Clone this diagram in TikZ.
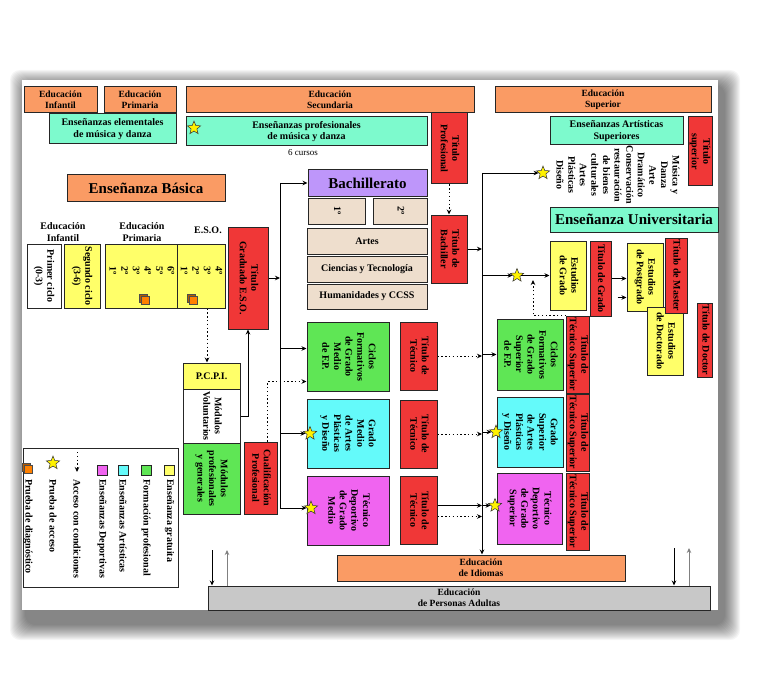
\documentclass[tikz,border=0pt]{standalone}
\usepackage{fontspec}
\setmainfont{Liberation Serif}
\usetikzlibrary{arrows.meta,shapes.geometric,shadows}

\definecolor{naranja}{RGB}{250,155,100}
\definecolor{menta}{RGB}{125,250,205}
\definecolor{rojo}{RGB}{240,55,55}
\definecolor{amarillo}{RGB}{255,255,105}
\definecolor{verde}{RGB}{95,230,85}
\definecolor{cian}{RGB}{100,250,250}
\definecolor{magenta}{RGB}{240,100,240}
\definecolor{lila}{RGB}{190,150,250}
\definecolor{beige}{RGB}{238,222,205}
\definecolor{gris}{RGB}{200,200,200}

\newcommand{\vtext}[1]{\rotatebox{-90}{\begin{tabular}{@{}c@{}}#1\end{tabular}}}

\begin{document}
\begin{tikzpicture}[x=1pt, y=-1pt,
    every node/.style={font=\fontsize{10}{11.6}\selectfont\bfseries},
    caja/.style={rectangle, draw=black!85, line width=1pt, inner sep=1pt, align=center},
    cab/.style={caja, fill=naranja, minimum height=26pt, font=\fontsize{9.5}{11}\selectfont\bfseries},
    titulo/.style={caja, fill=rojo, inner sep=0pt},
    grande/.style={font=\fontsize{15}{17}\selectfont\bfseries},
    estrella/.style={star, star points=5, star point ratio=2.3, fill=yellow, draw=black!80, line width=0.5pt, minimum size=14pt, inner sep=0pt},
    cubo/.style={draw=black!70, fill=orange, line width=0.5pt, minimum size=8pt, inner sep=0pt, copy shadow={shadow xshift=-1.8pt, shadow yshift=1.8pt, fill=orange!70!black, draw=black!70}},
    cuadro/.style={draw=black!85, line width=1pt, minimum size=10pt, inner sep=0pt},
    leyenda/.style={rotate=-90, anchor=west, inner sep=0pt},
    linea/.style={line width=0.9pt},
    flecha/.style={-{Stealth[length=5pt,width=4.5pt]}, line width=0.9pt},
    punteada/.style={flecha, dash pattern=on 1.4pt off 2.4pt}
]
\useasboundingbox (0,0) rectangle (773,695);

% hoja con sombra
\foreach \r in {1,...,16}
  \fill[black, opacity=0.04, rounded corners=10pt] (26-\r,86-\r) rectangle (724+\r,624+\r);
\fill[white] (22,80) rectangle (718,610);

% cabeceras
\node[cab, minimum width=73pt] (hinf) at (60.5,100) {Educación\\Infantil};
\node[cab, minimum width=72pt] (hprim) at (140,100) {Educación\\Primaria};
\node[cab, minimum width=288pt] (hsec) at (330,100) {Educación\\Secundaria};
\node[cab, minimum width=216pt] (hsup) at (603,100) {Educación\\Superior};

% musica y danza
\node[caja, fill=menta, minimum width=127pt, minimum height=30pt] (elem) at (112.5,129) {Enseñanzas elementales\\de música y danza};
\node[caja, fill=menta, minimum width=241pt, minimum height=29pt] (prof) at (306.5,131.5) {Enseñanzas profesionales\\de música y danza};
\node[font=\fontsize{9}{10}\selectfont] (cursos) at (303,153) {6 cursos};
\node[titulo, minimum width=36pt, minimum height=71pt] (tprof) at (449,148.5) {\vtext{Título\\Profesional}};
\node[caja, fill=menta, minimum width=133pt, minimum height=28pt] (artsup) at (616.5,131) {Enseñanzas Artísticas\\Superiores};
\node[titulo, minimum width=24pt, minimum height=69pt] (tsup) at (700,151.5) {\vtext{Título\\superior}};
\node (disc) at (617,175) {\vtext{Música y\\Danza\\Arte\\Dramático\\Conservación\\restauración\\de bienes\\culturales\\Artes\\Plásticas\\Diseño}};

% ensenanza basica
\node[caja, fill=naranja, minimum width=158pt, minimum height=26pt, grande] (basica) at (146,188) {Enseñanza Básica};
\node[align=center] (linf) at (63,232) {Educación\\Infantil};
\node[align=center] (lprim) at (142,232) {Educación\\Primaria};
\node (leso) at (208,230) {E.S.O.};
\node[caja, fill=white, minimum width=34pt, minimum height=64pt] (ciclo1) at (44,276) {\vtext{Primer ciclo\\(0-3)}};
\node[caja, fill=amarillo, minimum width=36pt, minimum height=64pt] (ciclo2) at (82,276) {\vtext{Segundo ciclo\\(3-6)}};
\node[caja, fill=amarillo, minimum width=72pt, minimum height=64pt] (prim) at (141,276) {};
\node (primtxt) at (141,271) {\vtext{6º\\5º\\4º\\3º\\2º\\1º}};
\node[caja, fill=amarillo, minimum width=48pt, minimum height=64pt] (eso) at (201,276) {};
\node (esotxt) at (200.5,271) {\vtext{4º\\3º\\2º\\1º}};
\node[cubo] (cubo1) at (145,300) {};
\node[cubo] (cubo2) at (193,300) {};
\node[titulo, minimum width=40pt, minimum height=102pt] (tgeso) at (248,278) {\vtext{Título\\Graduado E.S.O.}};

% bachillerato
\node[caja, fill=lila, minimum width=119pt, minimum height=26pt, grande] (bach) at (367.5,183) {Bachillerato};
\node[caja, fill=beige, minimum width=57pt, minimum height=26pt] (curso1) at (336.5,211) {\vtext{1º}};
\node[caja, fill=beige, minimum width=54pt, minimum height=26pt] (curso2) at (400,211) {\vtext{2º}};
\node[caja, fill=beige, minimum width=120pt, minimum height=26pt] (artes) at (367,241) {Artes};
\node[caja, fill=beige, minimum width=120pt, minimum height=26pt] (ciencias) at (367,269) {Ciencias y Tecnología};
\node[caja, fill=beige, minimum width=120pt, minimum height=25pt] (human) at (367,296.5) {Humanidades y CCSS};
\node[titulo, minimum width=36pt, minimum height=68pt] (tbach) at (449,249) {\vtext{Título de\\Bachiller}};

% universidad
\node[caja, fill=menta, minimum width=168pt, minimum height=25pt, grande] (euniv) at (634,219.5) {Enseñanza Universitaria};
\node[caja, fill=amarillo, minimum width=36pt, minimum height=69pt] (egrado) at (568,275.5) {\vtext{Estudios\\de Grado}};
\node[titulo, minimum width=21pt, minimum height=75pt] (tgrado) at (600.5,278.5) {\vtext{Título de Grado}};
\node[caja, fill=amarillo, minimum width=36pt, minimum height=68pt] (epost) at (645,277) {\vtext{Estudios\\de Postgrado}};
\node[caja, fill=amarillo, minimum width=36pt, minimum height=68pt] (edoc) at (665,341) {\vtext{Estudios\\de Doctorado}};
\node[titulo, minimum width=22pt, minimum height=75pt] (tmaster) at (676,275.5) {\vtext{Título de Master}};
\node[titulo, minimum width=15pt, minimum height=74pt] (tdoc) at (705,340) {\vtext{Título de Doctor}};

% pcpi
\node[caja, fill=amarillo, minimum width=57pt, minimum height=26pt] (pcpi) at (211.5,376) {P.C.P.I.};
\node[caja, fill=white, minimum width=57pt, minimum height=54pt] (modvol) at (211.5,416) {\vtext{Módulos\\Voluntarios}};
\node[caja, fill=verde, minimum width=57pt, minimum height=71pt] (modprof) at (211.5,478.5) {\vtext{Módulos\\profesionales\\y generales}};
\node[titulo, minimum width=33pt, minimum height=72pt] (cualif) at (260.5,478) {\vtext{Cualificación\\Profesional}};

% grado medio
\node[caja, fill=verde, minimum width=82pt, minimum height=69pt] (cfgm) at (348,356.5) {\vtext{Ciclos\\Formativos\\de Grado\\Medio\\de F.P.}};
\node[caja, fill=cian, minimum width=82pt, minimum height=69pt] (gmap) at (348,433.5) {\vtext{Grado\\Medio\\de Artes\\Plásticas\\y Diseño}};
\node[caja, fill=magenta, minimum width=82pt, minimum height=69pt] (tdgm) at (348,510.5) {\vtext{Técnico\\Deportivo\\de Grado\\Medio}};
\node[titulo, minimum width=37pt, minimum height=68pt] (ttec1) at (418.5,356) {\vtext{Título de\\Técnico}};
\node[titulo, minimum width=37pt, minimum height=68pt] (ttec2) at (418.5,434) {\vtext{Título de\\Técnico}};
\node[titulo, minimum width=37pt, minimum height=68pt] (ttec3) at (418.5,510.5) {\vtext{Título de\\Técnico}};

% grado superior
\node[caja, fill=verde, minimum width=66pt, minimum height=71pt] (cfgs) at (530,354.5) {\vtext{Ciclos\\Formativos\\de Grado\\Superior\\de F.P.}};
\node[caja, fill=cian, minimum width=66pt, minimum height=70pt] (gsap) at (530,432) {\vtext{Grado\\Superior\\de Artes\\Plásticas\\y Diseño}};
\node[caja, fill=magenta, minimum width=65pt, minimum height=71pt] (tdgs) at (529.5,508.5) {\vtext{Técnico\\Deportivo\\de Grado\\Superior}};
\node[titulo, minimum width=22pt, minimum height=77pt] (tts1) at (578,354.5) {\vtext{Título de\\Técnico Superior}};
\node[titulo, minimum width=22pt, minimum height=77pt] (tts2) at (578,432.5) {\vtext{Título de\\Técnico Superior}};
\node[titulo, minimum width=22pt, minimum height=77pt] (tts3) at (578,511.5) {\vtext{Título de\\Técnico Superior}};

% idiomas y adultos
\node[caja, fill=naranja, minimum width=288pt, minimum height=26pt, font=\fontsize{9.5}{11}\selectfont\bfseries] (idiomas) at (481,568) {Educación\\de Idiomas};
\node[caja, fill=gris, inner sep=0.5pt, minimum width=502pt, minimum height=24pt, font=\fontsize{9.5}{11}\selectfont\bfseries] (adultas) at (459,598) {Educación\\de Personas Adultas};

% pruebas de acceso
\node[estrella] (e1) at (194,128) {};
\node[estrella] (e2) at (543,173) {};
\node[estrella] (e3) at (310,433.5) {};
\node[estrella] (e4) at (311,508) {};
\node[estrella] (e5) at (517,275.5) {};
\node[estrella] (e6) at (496,432) {};
\node[estrella] (e7) at (495,505.5) {};

% tronco izquierdo
\coordinate (tiz1) at (280,183);
\coordinate (tiz2) at (280,508);
\draw[linea] (tiz1) -- (tiz2);
\draw[flecha] (tgeso.east) -- (tgeso.east -| tiz1);
\draw[flecha] (tiz1) -- (bach.west);
\coordinate (rcfgm) at ([yshift=8pt]cfgm.west);
\draw[flecha] (rcfgm -| tiz1) -- (rcfgm);
\draw[flecha] (e3 -| tiz1) -- (e3);
\draw[flecha] (tiz2) -- (e4);
\draw[flecha] (modvol.east) -| (tgeso.south);
\draw[punteada] ([xshift=6pt]eso.south) -- ([xshift=6pt]eso.south |- pcpi.north);
\draw[punteada] ([xshift=7pt]cualif.north) |- ([yshift=-25pt]cfgm.west);
\draw[punteada] (tprof) -- (tbach);

% tronco derecho
\coordinate (tde1) at (482,173);
\draw[flecha] (tde1) -- (tde1 |- idiomas.north);
\draw[flecha] (tbach.east) -- (tbach.east -| tde1);
\draw[flecha] (tde1) -- (e2);
\draw[flecha] (tde1 |- e5) -- (e5);
\draw[flecha] (e5) -- (egrado.west);
\draw[flecha] (tde1 |- cfgs.west) -- (cfgs.west);
\draw[punteada] (ttec1.east) -- (ttec1.east -| tde1);
\draw[flecha] (tde1 |- e6) -- (e6);
\draw[punteada] (ttec2.east) -- (ttec2.east -| tde1);
\coordinate (rtd) at ([yshift=5pt]ttec3.east);
\draw[flecha] (rtd) -- (rtd -| tde1);
\draw[flecha] (tde1 |- e7) -- (e7);
\draw[punteada] ([yshift=-6pt]ttec3.east) -- ([yshift=-6pt]ttec3.east -| tde1);
\coordinate (accg) at (533,280);
\draw[punteada] (tts1.north west) -| (accg);
\draw[flecha] (tgrado.east) -- (tgrado.east -| epost.west);
\coordinate (rpg) at ([yshift=-19pt]tgrado.east);
\draw[flecha] ([xshift=6pt]rpg) -- (rpg -| epost.west);

% adultos
\coordinate (ad1) at (212,550);
\coordinate (ad2) at (227,550);
\coordinate (ad3) at (674,548);
\coordinate (ad4) at (689,548);
\draw[flecha] (ad1) -- (ad1 |- adultas.north);
\draw[flecha, gray] (ad2 |- adultas.north) -- (ad2);
\draw[flecha] (ad3) -- (ad3 |- adultas.north);
\draw[flecha, gray] (ad4 |- adultas.north) -- (ad4);

% leyenda
\node[caja, minimum width=155pt, minimum height=139pt] (leyenda) at (100.5,517.5) {};
\node[cuadro, fill=amarillo] (lg1) at (169.5,470) {};
\node[cuadro, fill=verde] (lg2) at (146,470) {};
\node[cuadro, fill=cian] (lg3) at (123,470) {};
\node[cuadro, fill=magenta] (lg4) at (102,470) {};
\coordinate (lg5) at (77,452);
\coordinate (lg5b) at (77,472);
\draw[punteada] (lg5) -- (lg5b);
\node[estrella] (lg6) at (53,463) {};
\node[cubo] (lg7) at (28,469) {};
\node[leyenda] (tl1) at (169.5,479) {Enseñanza gratuita};
\node[leyenda] (tl2) at (146,479) {Formación profesional};
\node[leyenda] (tl3) at (123,479) {Enseñanzas Artísticas};
\node[leyenda] (tl4) at (102,479) {Enseñanzas Deportivas};
\node[leyenda] (tl5) at (77,479) {Acceso con condiciones};
\node[leyenda] (tl6) at (53,479) {Prueba de acceso};
\node[leyenda] (tl7) at (28,479) {Prueba de diagnóstico};

\end{tikzpicture}
\end{document}
